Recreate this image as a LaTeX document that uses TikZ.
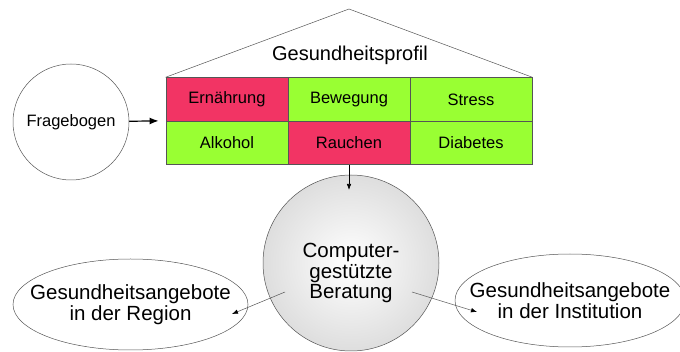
\documentclass[tikz,border=0pt]{standalone}
\usepackage{fontspec}
\setmainfont{Liberation Sans}
\usetikzlibrary{shapes.geometric,arrows.meta}
\definecolor{profilred}{RGB}{242,52,100}
\definecolor{profilgreen}{RGB}{153,255,51}
\definecolor{rimgray}{RGB}{85,85,85}

\begin{document}
\begin{tikzpicture}[x=1pt, y=-1pt,
    cell/.style={draw=rimgray, line width=0.9pt, minimum width=122pt, minimum height=43.5pt, inner sep=0pt, font=\fontsize{16.5}{18}\selectfont},
    red cell/.style={cell, fill=profilred},
    green cell/.style={cell, fill=profilgreen},
    bigtext/.style={font=\fontsize{20.5}{20.5}\selectfont, align=center},
    thin arrow/.style={draw=rimgray, line width=0.5pt, -{Latex[length=6pt,width=4.5pt,fill=black,color=black]}}]
    \useasboundingbox (0,0) rectangle (680,352);

    % profile table
    \node[red cell] (ER) at (227,99.5) {Ernährung};
    \node[green cell] (BW) at (349,99.5) {Bewegung};
    \node[green cell] (ST) at (471,99.5) {Stress};
    \node[green cell] (AL) at (227,143) {Alkohol};
    \node[red cell] (RA) at (349,143) {Rauchen};
    \node[green cell] (DB) at (471,143) {Diabetes};

    % roof
    \coordinate (RF) at (349,9);
    \draw[rimgray, line width=0.5pt] (ER.north west) -- (RF) -- (ST.north east);
    \node[font=\fontsize{20}{20}\selectfont] (GP) at (350,55) {Gesundheitsprofil};

    \node[circle, draw=rimgray, line width=0.5pt, minimum size=116pt, inner sep=0pt, font=\fontsize{16.5}{18}\selectfont] (FB) at (71,122) {Fragebogen};
    \draw[line width=1.2pt, -{Latex[length=9pt,width=7pt]}, shorten >=7pt] (FB) -- (AL.north west);

    % counselling
    \node[circle, draw=rimgray, line width=0.5pt, minimum size=176pt, inner sep=0pt, inner color=white, outer color=black!13] (CB) at (351,263) {};
    \node[bigtext] (CBtext) at ([yshift=-10pt]CB.center) {Computer-\\gestützte\\Beratung};
    \coordinate (CBin) at (349,190);
    \draw[thin arrow, draw=black, line width=0.6pt] (RA.south) -- (CBin);

    % offers
    \node[ellipse, draw=rimgray, line width=0.5pt, minimum width=235pt, minimum height=91pt] (RG) at (130.5,304.5) {};
    \node[bigtext] (RGtext) at (RG.center) {Gesundheitsangebote\\in der Region};
    \node[ellipse, draw=rimgray, line width=0.5pt, minimum width=230pt, minimum height=93pt] (IN) at (570,300.5) {};
    \node[bigtext] (INtext) at (IN.center) {Gesundheitsangebote\\in der Institution};

    \coordinate (CBl) at (285,292);
    \coordinate (RGin) at (232,314);
    \coordinate (CBr) at (412,292);
    \coordinate (INin) at (477,312);
    \draw[thin arrow] (CBl) -- (RGin);
    \draw[thin arrow] (CBr) -- (INin);
\end{tikzpicture}
\end{document}
